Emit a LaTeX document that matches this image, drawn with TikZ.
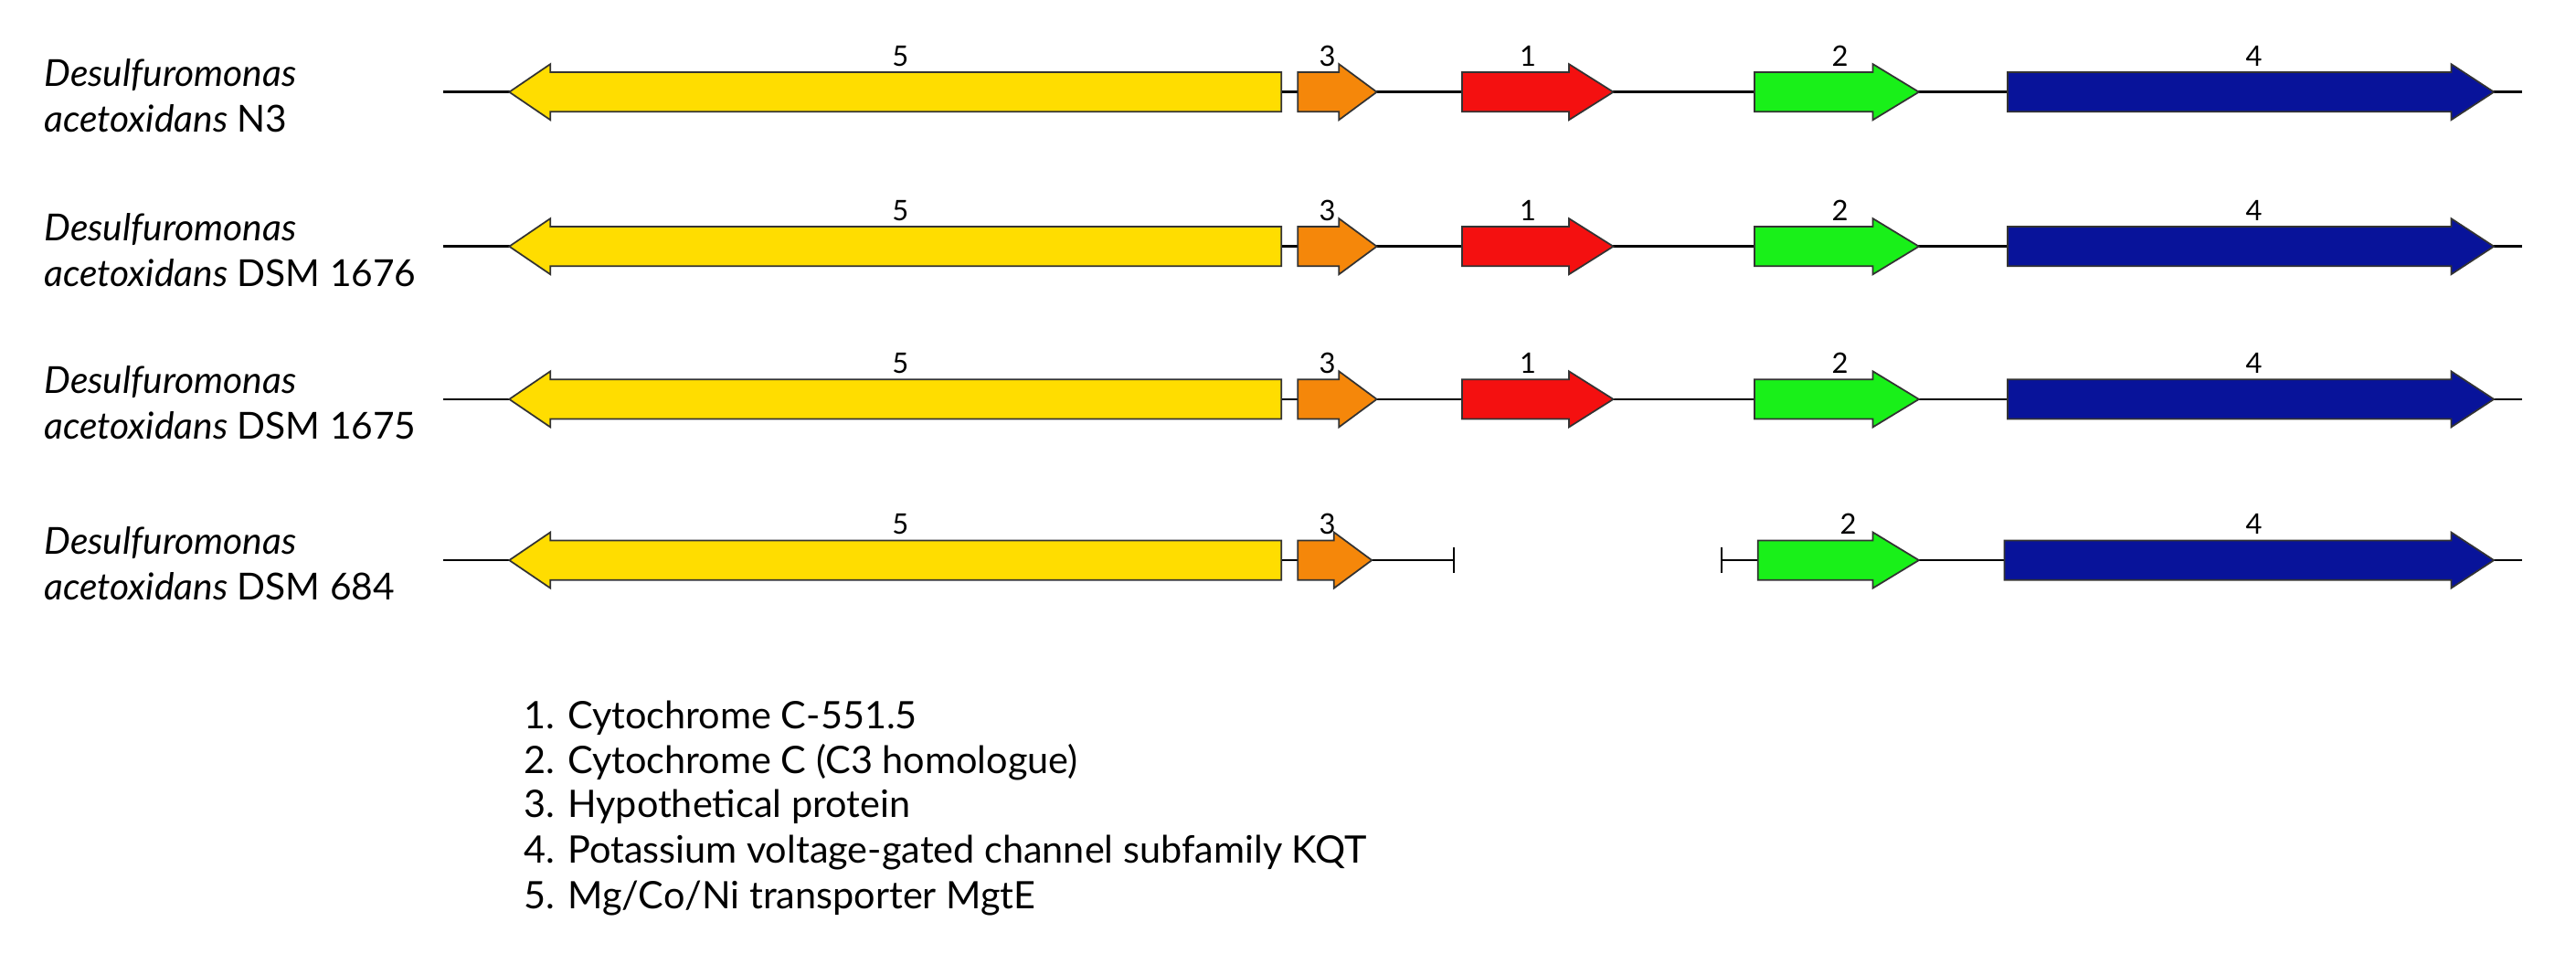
\documentclass[tikz,border=0pt]{standalone}
\usepackage{fontspec}
\setmainfont{Lato}
\definecolor{gyel}{HTML}{FFDD00}
\definecolor{gora}{HTML}{F5870A}
\definecolor{gred}{HTML}{F41010}
\definecolor{ggrn}{HTML}{19F019}
\definecolor{gblu}{HTML}{08139A}
\begin{document}
\begin{tikzpicture}[x=0.018cm,y=-0.018cm,
  gene/.style={draw=black!80,line width=0.5pt},
  bb/.style={line width=0.7pt},
  num/.style={font=\fontsize{8.8}{10}\selectfont},
  sp/.style={font=\fontsize{11.6}{14.2}\selectfont,align=left,anchor=north west},
  leg/.style={font=\fontsize{11.8}{14}\selectfont,anchor=west}]
\useasboundingbox (0,0) rectangle (1568,593);
\newcommand{\rarr}[5]{% x1 headbase tip y color
  \fill[#5,gene] (#1,#4-12) -- (#2,#4-12) -- (#2,#4-17) -- (#3,#4) -- (#2,#4+17) -- (#2,#4+12) -- (#1,#4+12) -- cycle;}
\newcommand{\larr}[5]{% tip headbase x2 y color
  \fill[#5,gene] (#3,#4-12) -- (#2,#4-12) -- (#2,#4-17) -- (#1,#4) -- (#2,#4+17) -- (#2,#4+12) -- (#3,#4+12) -- cycle;}
\foreach \y/\s [count=\i] in {56/N3,150/DSM 1676,243/DSM 1675,341/DSM 684}{
  \node[sp] (sp\i) at (20,\y-27) {\textit{Desulfuromonas}\\\textit{acetoxidans} \s};
}
% backbones
\foreach \y in {56,150,243}{
  \draw[bb] (270,\y) -- (1535,\y);
}
\draw[bb] (270,341) -- (885,341);
\draw[bb] (885,333) -- (885,349);
\draw[bb] (1048,341) -- (1220,341);
\draw[bb] (1048,333) -- (1048,349);
\draw[bb] (1518,341) -- (1535,341);
\foreach \y in {56,150,243}{
  \larr{310}{335}{780}{\y}{gyel}
  \rarr{790}{815}{838}{\y}{gora}
  \rarr{890}{955}{982}{\y}{gred}
  \rarr{1068}{1140}{1168}{\y}{ggrn}
  \rarr{1222}{1492}{1518}{\y}{gblu}
  \node[num] at (548,\y-22) {5};
  \node[num] at (808,\y-22) {3};
  \node[num] at (930,\y-22) {1};
  \node[num] at (1120,\y-22) {2};
  \node[num] at (1372,\y-22) {4};
}
\larr{310}{335}{780}{341}{gyel}
\rarr{790}{812}{835}{341}{gora}
\rarr{1070}{1140}{1168}{341}{ggrn}
\rarr{1220}{1492}{1518}{341}{gblu}
\node[num] at (548,319) {5};
\node[num] at (808,319) {3};
\node[num] at (1125,319) {2};
\node[num] at (1372,319) {4};
\node[leg] (l1) at (312,437) {1. Cytochrome C-551.5};
\node[leg] (l2) at (312,464) {2. Cytochrome C (C3 homologue)};
\node[leg] (l3) at (312,491) {3. Hypothetical protein};
\node[leg] (l4) at (312,519) {4. Potassium voltage-gated channel subfamily KQT};
\node[leg] (l5) at (312,547) {5. Mg/Co/Ni transporter MgtE};
\end{tikzpicture}
\end{document}
